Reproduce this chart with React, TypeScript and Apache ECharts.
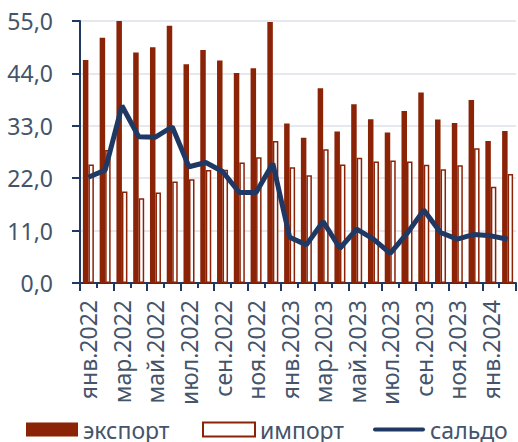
import React, { useEffect, useRef } from "react";
import * as echarts from "echarts";

const categories = [
  "янв.2022", "фев.2022", "мар.2022", "апр.2022", "май.2022", "июн.2022",
  "июл.2022", "авг.2022", "сен.2022", "окт.2022", "ноя.2022", "дек.2022",
  "янв.2023", "фев.2023", "мар.2023", "апр.2023", "май.2023", "июн.2023",
  "июл.2023", "авг.2023", "сен.2023", "окт.2023", "ноя.2023", "дек.2023",
  "янв.2024", "фев.2024",
];

const exportValues = [
  46.8, 51.5, 55.5, 48.4, 49.5, 54.0, 45.9, 48.9, 46.7, 44.1, 45.1, 54.8,
  33.5, 30.5, 40.9, 31.8, 37.5, 34.4, 31.6, 36.1, 40.0, 34.3, 33.6, 38.4,
  29.8, 31.9,
];

const importValues = [
  24.9, 27.9, 19.2, 17.8, 19.0, 21.3, 21.8, 23.7, 23.8, 25.3, 26.4, 29.8,
  24.3, 22.6, 28.1, 24.9, 26.3, 25.5, 25.7, 25.5, 24.8, 23.9, 24.7, 28.3,
  20.2, 22.9,
];

const saldoValues = [
  22.2, 23.7, 37.2, 30.7, 30.6, 32.8, 24.4, 25.3, 23.4, 19.0, 19.0, 25.1,
  9.6, 8.0, 12.9, 7.3, 11.3, 9.2, 6.2, 10.4, 15.3, 10.6, 9.2, 10.2,
  9.9, 9.2,
];

const yMin = 0;
const yMax = 55;
const yStep = 11;

const FONT = "'Noto Sans', sans-serif";
const TEXT_COLOR = "#44546a";
const AXIS_COLOR = "#1f3864";
const BAR_COLOR = "#8b2307";
const LINE_COLOR = "#1f3864";

const legendRich = (w: number) => ({
  width: w,
  fontFamily: FONT,
  fontSize: 23,
  lineHeight: 20,
  color: TEXT_COLOR,
});

export default function App() {
  const ref = useRef<HTMLDivElement>(null);

  useEffect(() => {
    if (!ref.current) return;
    const chart = echarts.init(ref.current, undefined, { renderer: "svg" });
    chart.setOption({
      animation: false,
      textStyle: { fontFamily: FONT },
      grid: { left: 80, right: 2, top: 21, bottom: 159, containLabel: false },
      legend: {
        left: 26,
        top: 418,
        itemWidth: 52,
        itemHeight: 14,
        itemGap: 20,
        padding: 0,
        formatter: (name: string) => {
          const key = name === "экспорт" ? "e" : name === "импорт" ? "i" : "s";
          return `{${key}|${name}}`;
        },
        textStyle: {
          fontFamily: FONT,
          fontSize: 23,
          lineHeight: 20,
          color: TEXT_COLOR,
          rich: { e: legendRich(99), i: legendRich(93), s: legendRich(86) },
        },
        data: [
          { name: "экспорт", icon: "rect" },
          { name: "импорт", icon: "rect" },
          { name: "сальдо", icon: "path://M2,0 L50,0 A2,2 0 0 1 50,4 L2,4 A2,2 0 0 1 2,0 Z" },
        ],
      },
      xAxis: [
        {
          type: "category",
          data: categories,
          boundaryGap: true,
          axisLine: { lineStyle: { color: AXIS_COLOR, width: 2 } },
          axisTick: { show: true, interval: 1, length: 8, lineStyle: { color: AXIS_COLOR, width: 2 } },
          axisLabel: {
            interval: 1,
            rotate: 90,
            margin: 17,
            fontFamily: FONT,
            fontSize: 23,
            color: TEXT_COLOR,
          },
          splitLine: { show: false },
        },
        {
          type: "category",
          data: categories,
          position: "bottom",
          boundaryGap: true,
          axisLine: { show: false },
          axisTick: { show: true, interval: 0, length: 5, lineStyle: { color: AXIS_COLOR, width: 2 } },
          axisLabel: { show: false },
          splitLine: { show: false },
        },
      ],
      yAxis: {
        type: "value",
        min: yMin,
        max: yMax,
        interval: yStep,
        axisLine: { show: true, lineStyle: { color: AXIS_COLOR, width: 2 } },
        axisTick: { show: true, length: 8, lineStyle: { color: AXIS_COLOR, width: 2 } },
        axisLabel: {
          margin: 27,
          fontFamily: FONT,
          fontSize: 23,
          color: TEXT_COLOR,
          formatter: (v: number) => v.toFixed(1).replace(".", ","),
        },
        splitLine: { show: true, lineStyle: { color: "#dde2ea", width: 1.5 } },
      },
      series: [
        {
          name: "экспорт",
          type: "bar",
          data: exportValues,
          barWidth: 5.5,
          barGap: "0%",
          itemStyle: { color: BAR_COLOR },
          z: 2,
        },
        {
          name: "импорт",
          type: "bar",
          data: importValues,
          barWidth: 5.5,
          barGap: "0%",
          itemStyle: { color: "#ffffff", borderColor: BAR_COLOR, borderWidth: 1.5 },
          z: 2,
        },
        {
          name: "сальдо",
          type: "line",
          data: saldoValues,
          symbol: "none",
          showSymbol: false,
          lineStyle: { color: LINE_COLOR, width: 5 },
          itemStyle: { color: LINE_COLOR },
          z: 3,
        },
      ],
    });
    return () => chart.dispose();
  }, []);

  return (
    <div
      ref={ref}
      style={{ position: "absolute", left: 0, top: 0, width: 518, height: 442 }}
    />
  );
}
